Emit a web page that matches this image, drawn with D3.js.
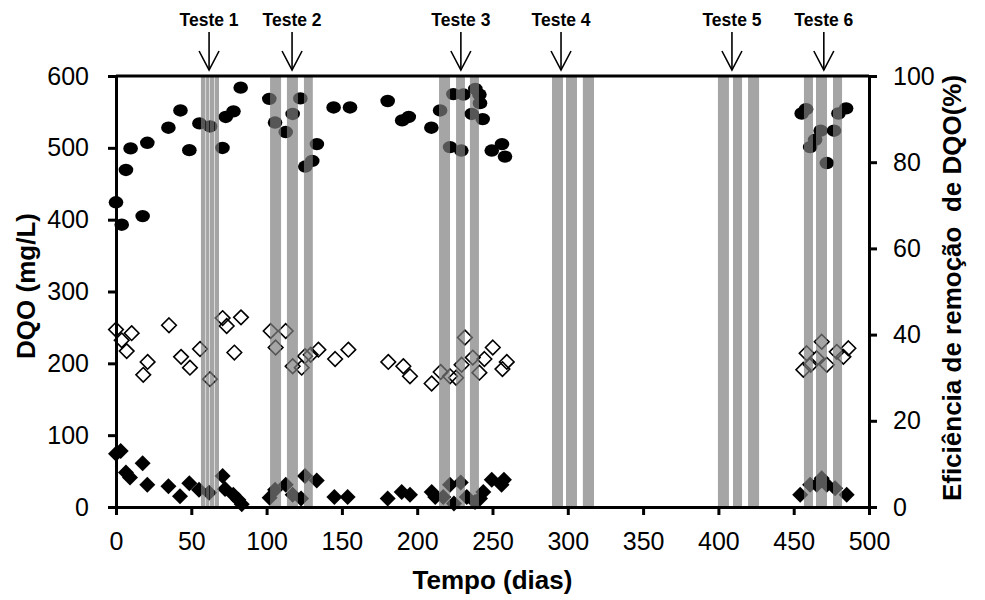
<!DOCTYPE html>
<html>
<head>
<meta charset="utf-8">
<script src="https://cdn.jsdelivr.net/npm/d3@7"></script>
<style>
  body { margin: 0; background: #fff; }
  svg { font-family: "Liberation Sans", Arial, sans-serif; }
</style>
</head>
<body>
<div id="chart"></div>
<script>
/* efficiency (%) - filled circles, right axis */
const effDays = [0, 3.8, 6.6, 9.7, 17.7, 20.8, 34.8, 42.8, 48.7, 55.4, 62.5, 70.7, 72.9, 78, 82.8,
  101.8, 105.6, 112.7, 117.3, 122.4, 125.7, 130.3, 133.4, 144.5, 155.4,
  180.4, 190, 194.4, 209.4, 215.2, 221.8, 224, 229.3, 230.7, 236.2, 238.6, 241.3, 241.7, 243.5, 249.5, 256.3, 258.3,
  455.3, 458.2, 460.9, 464.2, 467.9, 472, 476.8, 479.7, 484.8];
const effValues = [70.7, 65.5, 78.2, 83.2, 67.5, 84.5, 88, 92, 82.8, 89, 88.3, 83.3, 90.5, 91.8, 97.3,
  94.7, 89.2, 87, 91.2, 94.8, 79, 80.3, 84.2, 92.7, 92.7,
  94.2, 89.7, 90.5, 88, 92, 83.5, 95.8, 82.7, 95.7, 91.2, 97, 95.7, 93.7, 90, 82.7, 84.2, 81.3,
  91.3, 92.3, 83.5, 85.2, 87.3, 79.8, 87.3, 91.3, 92.5];

/* influent DQO (mg/L) - open diamonds */
const inDays = [0, 3.8, 7.1, 10.4, 18.1, 21, 35.2, 43.2, 49.1, 55.8, 62.4, 70.8, 73.5, 78.6, 83,
  102.7, 106, 112.7, 117.3, 123.3, 125.5, 129.3, 134.4, 145.5, 154.3,
  180.8, 190.8, 195.2, 209.6, 215.6, 221.8, 225.8, 229.5, 231.7, 236.9, 241.3, 244.6, 250.2, 256.6, 259.5,
  456.4, 458.6, 461.3, 465.3, 468.6, 472, 478.6, 483, 486.3];
const inValues = [247, 232, 217, 242, 184, 202, 253, 209, 194, 220, 178, 263, 252, 215, 264,
  245, 222, 245, 196, 194, 210, 212, 219, 206, 219,
  202, 196, 182, 172, 188, 182, 180, 198, 236, 208, 187, 206, 222, 192, 202,
  191, 214, 198, 207, 230, 198, 216, 209, 221];

/* effluent DQO (mg/L) - filled diamonds */
const outDays = [0, 3.1, 6.6, 9.3, 17.7, 20.8, 34.8, 42.5, 48.7, 55.1, 61.8, 70.8, 72.4, 77.9, 81.2, 83.5,
  102, 105.6, 112.7, 117.3, 122.9, 125.5, 133.3, 145, 153.8,
  180.4, 189.7, 195.2, 209.6, 212, 217.3, 221.8, 224.4, 228.9, 232.9, 238.4, 241.7, 243.9, 249.5, 256, 257.6,
  454.3, 460.9, 465.3, 468.6, 472, 477.5, 485.2];
const outValues = [74, 78, 48, 41, 61, 31, 29, 15, 33, 24, 20, 43, 25, 17, 10, 4,
  13, 24, 31, 17, 12, 43, 37, 14, 14,
  12, 21, 17, 21, 14, 14, 31, 5, 34, 14, 7, 12, 21, 38, 31, 38,
  17, 31, 31, 40, 31, 26, 17];

/* test periods (days) */
const testNames = ["Teste 1", "Teste 2", "Teste 3", "Teste 4", "Teste 5", "Teste 6"];
const testArrows = [61.8, 116.9, 229, 295.5, 409, 470];
const bandStart = [56.4, 59.8, 62.4, 65.7, 102.3, 113.5, 124.8, 214.5, 225.8, 235,
  289.5, 298.8, 310, 399.7, 409.7, 419.7, 456.8, 464.8, 476.1];
const bandEnd = [59.4, 62, 65.3, 68.4, 109.6, 120.8, 130.7, 221.8, 231.7, 241,
  296.8, 306.1, 317.4, 407, 415.7, 427, 462.8, 472.1, 482.1];

const xTicks = d3.range(0, 501, 50);
const yTicks = d3.range(0, 601, 100);
const y2Ticks = d3.range(0, 101, 20);

/* Sizing */
const margin = { top: 76, left: 116, right: 116, bottom: 93 },
  width = 985 - margin.left - margin.right,
  height = 600 - margin.top - margin.bottom;

const svg = d3
  .select("#chart")
  .append("svg")
  .attr("width", 985)
  .attr("height", 600);

const g = svg.append("g").attr("transform", `translate(${margin.left}, ${margin.top})`);

const xScale = d3.scaleLinear().domain([0, 500]).range([0, width]);
const yScale = d3.scaleLinear().domain([0, 600]).range([height, 0]);
const y2Scale = d3.scaleLinear().domain([0, 100]).range([height, 0]);

const diamond = (r) => `M0,${-r}L${r},0L0,${r}L${-r},0Z`;

/* points */
g.selectAll(".eff")
  .data(effDays)
  .join("ellipse")
  .attr("class", "eff")
  .attr("cx", (d) => xScale(d))
  .attr("cy", (d, i) => y2Scale(effValues[i]))
  .attr("rx", 7.3)
  .attr("ry", 6.2)
  .attr("fill", "#000");

g.selectAll(".in")
  .data(inDays)
  .join("path")
  .attr("class", "in")
  .attr("d", diamond(7.3))
  .attr("transform", (d, i) => `translate(${xScale(d)},${yScale(inValues[i])})`)
  .attr("fill", "none")
  .attr("stroke", "#000")
  .attr("stroke-width", 1.6);

g.selectAll(".out")
  .data(outDays)
  .join("path")
  .attr("class", "out")
  .attr("d", diamond(8))
  .attr("transform", (d, i) => `translate(${xScale(d)},${yScale(outValues[i])})`)
  .attr("fill", "#000");

/* gray bands over the points */
g.selectAll(".band")
  .data(bandStart)
  .join("rect")
  .attr("class", "band")
  .attr("x", (d) => xScale(d))
  .attr("width", (d, i) => xScale(bandEnd[i]) - xScale(d))
  .attr("y", 0)
  .attr("height", height)
  .attr("fill", "#7c7c7c")
  .attr("opacity", 0.69);

/* axes */
const styleAxis = (sel) => {
  sel.selectAll(".domain").attr("stroke-width", 3);
  sel.selectAll(".tick line").attr("stroke-width", 3);
  sel.selectAll(".tick text").attr("font-size", 25).attr("fill", "#000");
};

g.append("g")
  .attr("transform", `translate(0, ${height})`)
  .call(d3.axisBottom(xScale).tickValues(xTicks).tickSize(8).tickSizeOuter(0).tickPadding(17))
  .call(styleAxis)
  .attr("font-family", null);

g.append("g")
  .call(d3.axisLeft(yScale).tickValues(yTicks).tickSize(8).tickSizeOuter(0).tickPadding(19))
  .call(styleAxis)
  .attr("font-family", null);

g.append("g")
  .attr("transform", `translate(${width}, 0)`)
  .call(d3.axisRight(y2Scale).tickValues(y2Ticks).tickSize(8).tickSizeOuter(0).tickPadding(16))
  .call(styleAxis)
  .attr("font-family", null);

// top border
g.append("line")
  .attr("x1", 0)
  .attr("x2", width)
  .attr("y1", 0)
  .attr("y2", 0)
  .attr("stroke", "#000")
  .attr("stroke-width", 3);

/* test arrows */
const arrows = g.selectAll(".arrow")
  .data(testArrows)
  .join("g")
  .attr("class", "arrow")
  .attr("transform", (d) => `translate(${xScale(d)}, 0)`);

arrows.append("line")
  .attr("y1", -44)
  .attr("y2", -6)
  .attr("stroke", "#000")
  .attr("stroke-width", 1.6);

arrows.append("path")
  .attr("d", "M-10,-25L0,-6L10,-25")
  .attr("fill", "none")
  .attr("stroke", "#000")
  .attr("stroke-width", 1.6);

arrows.append("text")
  .attr("y", -50)
  .attr("text-anchor", "middle")
  .attr("font-size", 17.5)
  .attr("font-weight", "bold")
  .text((d, i) => testNames[i]);

/* axis titles */
svg.append("text")
  .attr("x", margin.left + width / 2)
  .attr("y", 589)
  .attr("text-anchor", "middle")
  .attr("font-size", 26)
  .attr("font-weight", "bold")
  .text("Tempo (dias)");

svg.append("text")
  .attr("transform", "translate(35, 286) rotate(-90)")
  .attr("text-anchor", "middle")
  .attr("font-size", 26)
  .attr("font-weight", "bold")
  .text("DQO (mg/L)");

svg.append("text")
  .attr("transform", "translate(961, 288) rotate(-90)")
  .attr("text-anchor", "middle")
  .attr("font-size", 26)
  .attr("font-weight", "bold")
  .style("white-space", "pre")
  .text("Eficiência de remoção  de DQO(%)");
</script>
</body>
</html>
